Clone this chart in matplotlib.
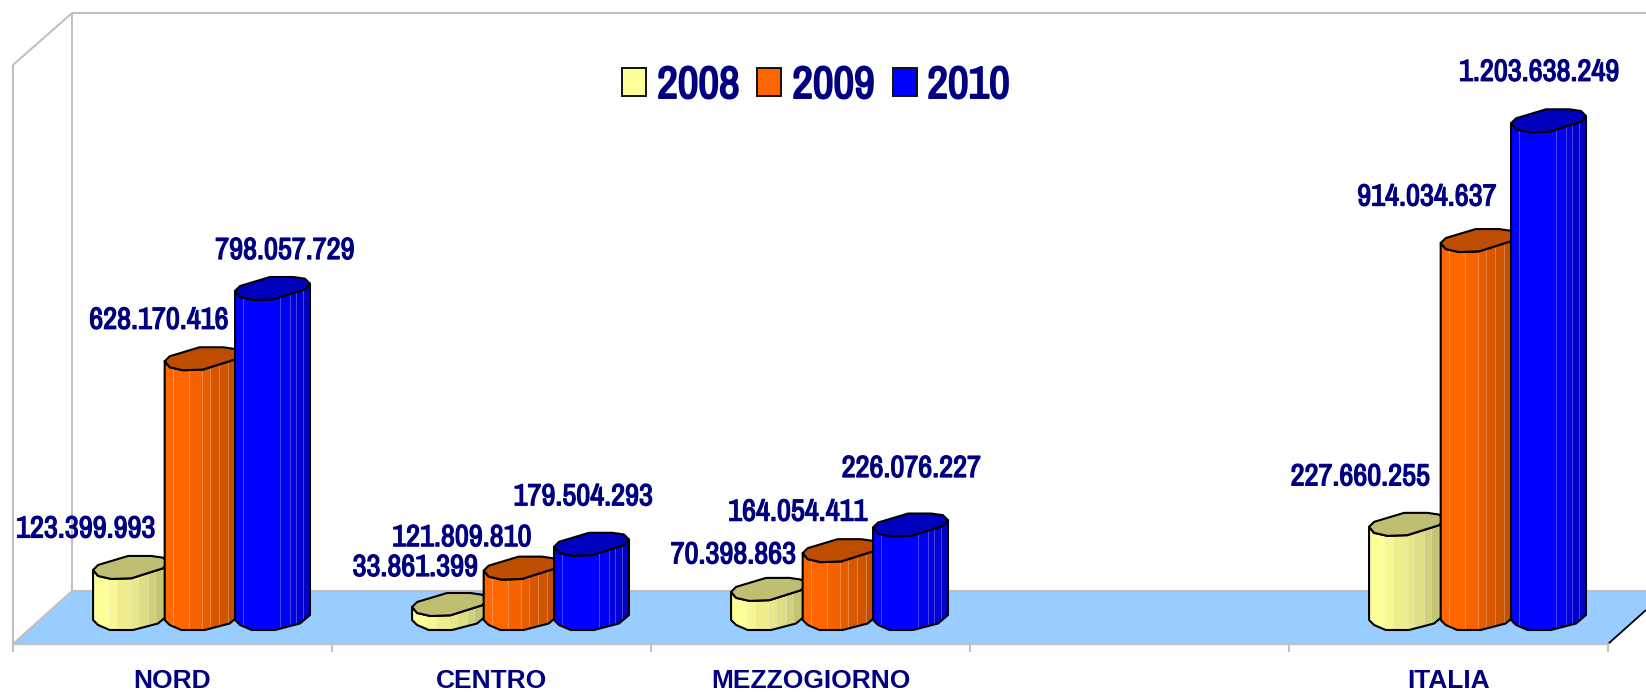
import numpy as np
import matplotlib
matplotlib.use("Agg")
import matplotlib.pyplot as plt
import matplotlib.patheffects as pe
from matplotlib import font_manager as fm
from matplotlib.patches import Polygon, Rectangle
from matplotlib.transforms import Affine2D

# ---- data ----
CATEGORIES = ["NORD", "CENTRO", "MEZZOGIORNO", "", "ITALIA"]
YEARS = ["2008", "2009", "2010"]
VALUES_2008 = [123399993, 33861399, 70398863, None, 227660255]
VALUES_2009 = [628170416, 121809810, 164054411, None, 914034637]
VALUES_2010 = [798057729, 179504293, 226076227, None, 1203638249]
SERIES = [VALUES_2008, VALUES_2009, VALUES_2010]

# ---- style ----
W, H = 1646, 693
NAVY = "#000080"
GRID = "#C0C0C0"
FLOOR = "#99CCFF"
FACE = ["#FFFF99", "#FF6600", "#0000FF"]
TOP = ["#BFBF73", "#BF4D00", "#0000BF"]
BANDS = [
    ([0, .2, .32, .49, .6, .73, .82, 1], [1, .97, .93, .91, .87, .82, .77]),
    ([0, .11, .32, .5, .61, .72, .84, 1], [1, 1, .96, .91, .85, .82, .77]),
    ([0, .11, .6, .73, .82, .91, 1], [1, 1, .95, .88, .83, .78]),
]
TOP_SHAPE = [(0, 2.5), (.067, -2.5), (.467, -11.5), (.778, -11.5), (.933, -9.8), (1, -4.8),
             (.933, .8), (.511, 10.8), (.244, 11.5), (.067, 8.5)]
TOP_LOWER = [(0, 2.5), (.067, 8.5), (.244, 11.5), (.511, 10.8), (.933, .8), (1, -4.8)]
BASE_LOWER = [(0, 1.5), (.067, 6.5), (.222, 11.5), (.533, 11.5), (.867, 5), (1, -3.5)]
BAR_LEFT = [-.249, -.0245, .196]   # category units
BAR_W = .235
# label offsets from bar centre / bar top centre (pixels)
LABEL_DX = [[-44.5, -43, 12.5], [-34, -59, -8], [-35, -42, 1], None, [-46, -51, -9]]
LABEL_DY = [[-39, -39, -38.5], [-37.5, -31, -48], [-35, -39, -57], None, [-48, -44, -49]]

available = {f.name for f in fm.fontManager.ttflist}
HAS_NARROW = "Archivo Narrow" in available
NARROW = "Archivo Narrow" if HAS_NARROW else "Liberation Sans"
SCALE = 1.0 if HAS_NARROW else 0.82
plt.rcParams["font.family"] = ["Liberation Sans", "DejaVu Sans"]


def heavy(width):
    # the narrow face only ships its regular weight, so thicken it with a stroke of the same colour
    return [pe.withStroke(linewidth=width if HAS_NARROW else 0, foreground=NAVY)]


fig = plt.figure(figsize=(W / 100, H / 100), dpi=100, facecolor="white")
px = Affine2D().scale(1 / W, -1 / H).translate(0, 1) + fig.transFigure

# axes spans the front floor edge: x 13..1608, y 65..644
AX_L, AX_R, AX_T, AX_B = 13, 1608, 65, 644
ax = fig.add_axes([AX_L / W, 1 - AX_B / H, (AX_R - AX_L) / W, (AX_B - AX_T) / H])
ax.patch.set_visible(False)
PX_PER_UNIT = .4135e-6           # px per value unit
ZERO_PX = 618.5
ax.set_xlim(-.5, 4.5)
ax.set_ylim((ZERO_PX - AX_B) / PX_PER_UNIT, (ZERO_PX - AX_T) / PX_PER_UNIT)
for s in ["top", "left", "right"]:
    ax.spines[s].set_visible(False)
ax.spines["bottom"].set_color(GRID)
ax.spines["bottom"].set_linewidth(1.6)
ax.set_yticks([])
ax.set_xticks(range(5), CATEGORIES, fontsize=19, fontweight="bold", color=NAVY)
ax.tick_params(axis="x", which="major", length=0, pad=18)
ax.set_xticks(np.arange(-.5, 5, 1), minor=True)
ax.tick_params(axis="x", which="minor", length=6, width=1.4, color=GRID)


# ---- walls and floor (figure furniture, pixel space) ----
def furn(xs, ys, **kw):
    fig.add_artist(plt.Line2D(xs, ys, transform=px, solid_capstyle="butt", **kw))


fig.add_artist(Polygon([(13, 644), (72, 591), (W, 591), (W, 610), (1608, 644)],
                       closed=True, transform=px, facecolor=FLOOR, edgecolor="none", zorder=0.5))
furn([13, 13], [65, 652], color=GRID, lw=1.5, zorder=1)
furn([13, 72], [65, 13], color=GRID, lw=1.5, zorder=1)
furn([72, 72], [13, 591], color=GRID, lw=1.5, zorder=1)
furn([72, W], [13, 13], color=GRID, lw=1.5, zorder=1)
furn([72, W], [591, 591], color=GRID, lw=1.5, zorder=1)
furn([13, 72], [644, 591], color=GRID, lw=1.5, zorder=1)
furn([1608, W], [644, 610], color="black", lw=1.3, zorder=1)

ax.set_zorder(3)

# ---- cylinders ----
dy = 1 / PX_PER_UNIT
EDGE = 1.5


def darker(col, f):
    return tuple(c * f for c in matplotlib.colors.to_rgb(col))


def cylinder(cat, s, value, z):
    x0 = cat + BAR_LEFT[s]
    X = lambda n: x0 + n * BAR_W
    top = [(X(n), value - d * dy) for n, d in TOP_SHAPE]
    low = [(X(n), value - d * dy) for n, d in TOP_LOWER]
    base = [(X(n), -d * dy) for n, d in BASE_LOWER]
    body = low + base[::-1]
    outline = Polygon(body, closed=True, facecolor="none", edgecolor="black", lw=EDGE,
                      joinstyle="round", zorder=z + .2, clip_on=False)
    ax.add_patch(outline)
    clip = Polygon(body, closed=True, transform=ax.transData)
    edges, shades = BANDS[s]
    ymax, ymin = value + 15 * dy, -15 * dy
    for a, b, f in zip(edges[:-1], edges[1:], shades):
        r = Rectangle((X(a), ymin), (b - a) * BAR_W, ymax - ymin, facecolor=darker(FACE[s], f),
                      edgecolor="none", zorder=z)
        ax.add_patch(r)
        r.set_clip_path(clip)
    for a in edges[1:-1]:
        ln, = ax.plot([X(a), X(a)], [ymin, ymax], color="white", alpha=.28, lw=.7, zorder=z + .1)
        ln.set_clip_path(clip)
    cap = Polygon(top, closed=True, facecolor=TOP[s], edgecolor="black", lw=EDGE,
                  joinstyle="round", zorder=z + .3, clip_on=False)
    ax.add_patch(cap)


def fmt(v):
    return f"{v:,}".replace(",", ".")


for c in range(len(CATEGORIES)):
    for s, vals in enumerate(SERIES):
        if vals[c] is not None:
            cylinder(c, s, vals[c], 3 + c * 3 + s)

for c in range(len(CATEGORIES)):
    for s, vals in enumerate(SERIES):
        v = vals[c]
        if v is None:
            continue
        ax.annotate(fmt(v), xy=(c + BAR_LEFT[s] + BAR_W / 2, v),
                    xytext=(LABEL_DX[c][s], -LABEL_DY[c][s]), textcoords="offset pixels",
                    ha="center", va="center", color=NAVY, fontweight="bold",
                    family=[NARROW, "DejaVu Sans"], fontsize=22 * SCALE, zorder=40,
                    annotation_clip=False, path_effects=heavy(.9))

# ---- legend ----
handles = [Rectangle((0, 0), 1, 1, facecolor=f, edgecolor="#111111", lw=1.4) for f in FACE]
leg = ax.legend(handles, YEARS, ncol=3, frameon=False, loc="center",
                bbox_to_anchor=(816 / W, 1 - 86 / H), bbox_transform=fig.transFigure,
                prop={"family": [NARROW, "DejaVu Sans"], "weight": "bold", "size": 32.5 * SCALE},
                labelcolor=NAVY, handlelength=.533, handleheight=.6, handletextpad=.24,
                columnspacing=.4, borderpad=0, borderaxespad=0)
leg.set_zorder(50)
for t in leg.get_texts():
    t.set_path_effects(heavy(1.4))

fig.savefig("out.png", dpi=100)
